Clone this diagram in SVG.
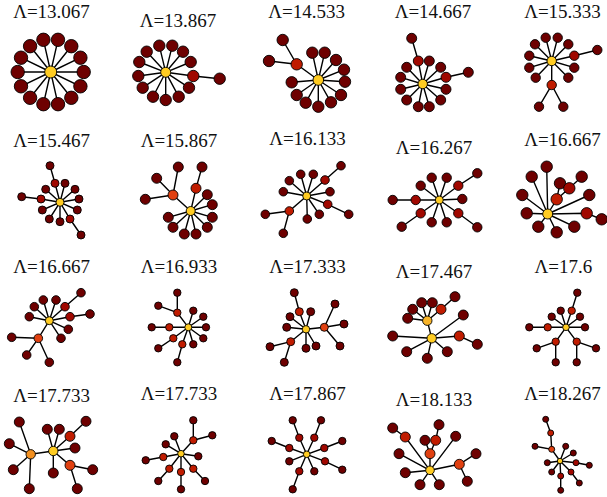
<svg xmlns="http://www.w3.org/2000/svg" width="607" height="497" viewBox="0 0 607 497">
<style>
.e{stroke:#000;stroke-width:1.4;fill:none;stroke-linecap:round}
circle{stroke:#000;stroke-width:0.9}
.l{fill:#6e0000}.r{fill:#a00800}.s{fill:#c01c00}.o{fill:#e04010}.h{fill:#ffcc22}.h2{fill:#f8b428}.oo{fill:#f39020}
text{font-family:"Liberation Serif","Times New Roman",serif;font-size:19px;text-anchor:middle;fill:#111}
</style>
<rect width="607" height="497" fill="#fff"/>
<g id="connectors">
<path id="e1" class="e" d="M50.7 72L58 39.8M50.7 72L71.3 46.2M50.7 72L80.4 57.7M50.7 72L83.7 72M50.7 72L80.4 86.3M50.7 72L71.3 97.8M50.7 72L58 104.2M50.7 72L43.4 104.2M50.7 72L30.1 97.8M50.7 72L21 86.3M50.7 72L17.7 72M50.7 72L21 57.7M50.7 72L30.1 46.2M50.7 72L43.4 39.8"/>
<path id="e2" class="e" d="M165.7 72.3L159.3 45.7M165.7 72.3L172.3 45.7M165.7 72.3L183 51.7M165.7 72.3L190.7 62M165.7 72.3L193.3 76L219.7 78.7M165.7 72.3L189 87.7M165.7 72.3L178.7 96.7M165.7 72.3L165.7 100M165.7 72.3L153 96.7M165.7 72.3L142.7 87.7M165.7 72.3L138.3 76M165.7 72.3L139.3 62M165.7 72.3L146.7 51.7"/>
<path id="e3" class="e" d="M318.3 80L296.7 64.3L282.7 40M296.7 64.3L269 61M318.3 80L312.3 52.7M318.3 80L324.7 52.7M318.3 80L336 60M318.3 80L344 69.7M318.3 80L345 81.7M318.3 80L341 95M318.3 80L331 102.3M318.3 80L318.3 106.7M318.3 80L305.7 102.7M318.3 80L296.7 95M318.3 80L291.7 82.3"/>
<path id="e4" class="e" d="M422.7 84L418.3 61L411.7 38.3M422.7 84L446 77.3L468.3 72.3M422.7 84L429.3 61M422.7 84L440.7 67.3M422.7 84L446 89.3M422.7 84L440.7 100M422.7 84L429.3 106.7M422.7 84L418.3 106.7M422.7 84L406.7 100M422.7 84L400.7 89.3M422.7 84L400.7 77.3M422.7 84L406.7 67.3"/>
<path id="e5" class="e" d="M551.7 61L574.3 55.7L597.3 50M551.7 61L551.7 85L539 106.7M551.7 85L563.3 106.7M551.7 61L545.7 37.7M551.7 61L557.7 37.7M551.7 61L568.3 44.3M551.7 61L574.3 67.7M551.7 61L568.3 77.7M551.7 61L535.7 77.7M551.7 61L529.3 67.7M551.7 61L529.3 55.7M551.7 61L535 44.3"/>
<path id="e6" class="e" d="M60 202.3L55 183.3L50 165.7M60 202.3L70 219L81 235M60 202.3L41 199L21.7 196.7M60 202.3L65 183.3M60 202.3L75 189.3M60 202.3L79 199M60 202.3L77.3 210M60 202.3L60 221.7M60 202.3L49.3 219M60 202.3L42.3 210M60 202.3L45.7 189.3"/>
<path id="e7" class="e" d="M190.7 211L173 195L156.7 178.3M173 195L145.3 199.3M173 195L178.3 167M190.7 211L196 188.3L202 167M190.7 211L207.3 194.7M190.7 211L212.3 204.7M190.7 211L212.3 217.3M190.7 211L207.3 227.3M190.7 211L196 234M190.7 211L184.3 234M190.7 211L173 227.3M190.7 211L168.3 217.3"/>
<path id="e8" class="e" d="M306.7 196L325 180L341 165.7M306.7 196L327.7 204.3L348.7 214.3M306.7 196L289.3 211L265.3 214.3M289.3 211L283.3 233.3M306.7 196L289.3 180.7M306.7 196L300.7 174.3M306.7 196L313.3 174.3M306.7 196L330 191.7M306.7 196L319.3 214.3M306.7 196L307.3 219M306.7 196L283.3 191.7"/>
<path id="e9" class="e" d="M439.3 200L458.3 185.7L477.3 173.3M439.3 200L458.3 213.3L477.3 227.3M439.3 200L420.7 213.3L401.7 226.7M439.3 200L415.7 200L392.7 200M439.3 200L420.7 185.7M439.3 200L431.7 177.7M439.3 200L446.7 177.7M439.3 200L462.3 199M439.3 200L446.7 222.3M439.3 200L431.7 222.3"/>
<path id="e10" class="e" d="M547.7 214L556.7 199.3L560 183.3M556.7 199.3L569.3 188.3L581.7 176.7M547.7 214L586.7 213.3L601.7 219.3M547.7 214L546.7 166.7M547.7 214L531.7 176.7M547.7 214L522.3 195M547.7 214L526.7 213.3M547.7 214L538.3 226.7M547.7 214L556.7 232.3M547.7 214L574.3 226.7M547.7 214L589.3 195"/>
<path id="e11" class="e" d="M49.3 320.7L65 306.7L81 292.7M49.3 320.7L70 316.7L90 314M49.3 320.7L38.3 338.3L11.7 337.3M38.3 338.3L26.7 355M38.3 338.3L49.3 362.3M49.3 320.7L34.3 306.7M49.3 320.7L43.3 300M49.3 320.7L56 300M49.3 320.7L68.3 329.3M49.3 320.7L61 338.3M49.3 320.7L29.3 316.7"/>
<path id="e12" class="e" d="M188.3 327.3L177.3 312.7L177.3 292.7M177.3 312.7L158.3 305.7M188.3 327.3L182.3 344.3L177.3 362.3M188.3 327.3L173.3 338.3L158.3 348.3M188.3 327.3L169.3 327.3L151.7 327.3M188.3 327.3L193.3 310.7M188.3 327.3L203.3 316.7M188.3 327.3L206 327.3M188.3 327.3L203.3 338.3M188.3 327.3L193.3 344.3"/>
<path id="e13" class="e" d="M306 329.3L299.3 311.7L294.3 292.7M306 329.3L290.7 341.7L270 346.7M290.7 341.7L284.3 362.3M306 329.3L324.3 327.3L335 304M324.3 327.3L344 324M324.3 327.3L340 346M306 329.3L310.7 311.7M306 329.3L290 316.7M306 329.3L286.7 327.3M306 329.3L306 348.3M306 329.3L316 346"/>
<path id="e14" class="e" d="M431.7 338.3L427.3 320.7L412.7 309.3M427.3 320.7L421.7 302.7M427.3 320.7L432.3 302.7M427.3 320.7L441 309.3L455 296.7M427.3 320.7L407.7 318.3M431.7 338.3L392.7 336M431.7 338.3L463.3 315M431.7 338.3L459.3 336L477.3 344.3M431.7 338.3L447.3 351.7M431.7 338.3L427.3 358.3M431.7 338.3L406.7 351.7"/>
<path id="e15" class="e" d="M566 327.3L571.7 310.7L577.3 292.7M566 327.3L547.7 327.3L529.3 327.3M566 327.3L555.7 341.7L536.7 348.3M555.7 341.7L555.7 362.3M566 327.3L576.7 341.7L596 348.3M576.7 341.7L576.7 362.3M566 327.3L560.7 310.7M566 327.3L551.7 316.7M566 327.3L580 316.7M566 327.3L585 327.3"/>
<path id="e16" class="e" d="M53.3 451L30.7 454.3L19.3 422M30.7 454.3L9.3 443.7M30.7 454.3L13.3 469.7M30.7 454.3L29.3 488.7M53.3 451L47.3 429.3M53.3 451L59.3 429.3M53.3 451L70 436.3L86 421.3M53.3 451L75 448M53.3 451L70 465.3L92.7 469.7M70 465.3L77.3 488.7M53.3 451L53.3 473"/>
<path id="e17" class="e" d="M181 453.7L193.3 440.3L193.3 420.3M193.3 440.3L212.3 435.3M181 453.7L193.3 468.7L205 481M181 453.7L181 472L181 489.3M181 453.7L169.3 468.7L158.3 481M181 453.7L163.3 457L145.7 460.3M181 453.7L174.3 436.3M181 453.7L165.7 444.3M181 453.7L198.3 456.3"/>
<path id="e18" class="e" d="M306.7 454.3L299.3 437.7L292.7 420.3M306.7 454.3L314.3 437.7L321 420.3M306.7 454.3L289.3 448L271.7 441M306.7 454.3L324.3 448L342.3 441M306.7 454.3L325 461.3L342.3 469.7M306.7 454.3L299.3 471.3L292.7 489.3M306.7 454.3L289.3 461.3M306.7 454.3L314.3 471.3"/>
<path id="e19" class="e" d="M430 470.3L430 453.7L425 440.3M430 453.7L435.7 440.3L439 424.7M430 470.3L405.3 437L392.7 428M430 470.3L459.3 464.3L476 453.7M459.3 464.3L467.3 481.3M430 470.3L399 453.7M430 470.3L405.3 472.7M430 470.3L420 484.7M430 470.3L439.3 484.7M430 470.3L455.7 436.3"/>
<path id="e20" class="e" d="M560 461L551.7 449.3L535 446.3M551.7 449.3L550.7 433L545.7 419.3M560 461L576 462.7L589.3 465.3M560 461L571 472L579.3 483M560 461L560.7 476L560.7 490.3M560 461L565.7 446.3M560 461L573.3 453M560 461L551.7 472M560 461L547.3 462.7"/>
</g>
<g id="graph1"><text x="51.5" y="18">Λ=13.067</text>
<g class="l"><circle cx="58" cy="39.8" r="6.7"/><circle cx="71.3" cy="46.2" r="6.7"/><circle cx="80.4" cy="57.7" r="6.7"/><circle cx="83.7" cy="72" r="6.7"/><circle cx="80.4" cy="86.3" r="6.7"/><circle cx="71.3" cy="97.8" r="6.7"/><circle cx="58" cy="104.2" r="6.7"/><circle cx="43.4" cy="104.2" r="6.7"/><circle cx="30.1" cy="97.8" r="6.7"/><circle cx="21" cy="86.3" r="6.7"/><circle cx="17.7" cy="72" r="6.7"/><circle cx="21" cy="57.7" r="6.7"/><circle cx="30.1" cy="46.2" r="6.7"/><circle cx="43.4" cy="39.8" r="6.7"/></g>
<circle class="h" cx="50.7" cy="72" r="6"/></g>
<g id="graph2"><text x="178" y="26.5">Λ=13.867</text>
<g class="l"><circle cx="159.3" cy="45.7" r="5.7"/><circle cx="172.3" cy="45.7" r="5.7"/><circle cx="183" cy="51.7" r="5.7"/><circle cx="190.7" cy="62" r="5.7"/><circle cx="219.7" cy="78.7" r="5.7"/><circle cx="189" cy="87.7" r="5.7"/><circle cx="178.7" cy="96.7" r="5.7"/><circle cx="165.7" cy="100" r="5.7"/><circle cx="153" cy="96.7" r="5.7"/><circle cx="142.7" cy="87.7" r="5.7"/><circle cx="138.3" cy="76" r="5.7"/><circle cx="139.3" cy="62" r="5.7"/><circle cx="146.7" cy="51.7" r="5.7"/></g>
<circle class="r" cx="193.3" cy="76" r="5.7"/><circle class="h" cx="165.7" cy="72.3" r="5"/></g>
<g id="graph3"><text x="306.7" y="18.3">Λ=14.533</text>
<g class="l"><circle cx="282.7" cy="40" r="5.7"/><circle cx="269" cy="61" r="5.7"/><circle cx="312.3" cy="52.7" r="5.7"/><circle cx="324.7" cy="52.7" r="5.7"/><circle cx="336" cy="60" r="5.7"/><circle cx="344" cy="69.7" r="5.7"/><circle cx="345" cy="81.7" r="5.7"/><circle cx="341" cy="95" r="5.7"/><circle cx="331" cy="102.3" r="5.7"/><circle cx="318.3" cy="106.7" r="5.7"/><circle cx="305.7" cy="102.7" r="5.7"/><circle cx="296.7" cy="95" r="5.7"/><circle cx="291.7" cy="82.3" r="5.7"/></g>
<circle class="s" cx="296.7" cy="64.3" r="5.7"/><circle class="h" cx="318.3" cy="80" r="5.3"/></g>
<g id="graph4"><text x="433" y="18.3">Λ=14.667</text>
<g class="l"><circle cx="411.7" cy="38.3" r="5"/><circle cx="468.3" cy="72.3" r="5"/><circle cx="429.3" cy="61" r="5"/><circle cx="440.7" cy="67.3" r="5"/><circle cx="446" cy="89.3" r="5"/><circle cx="440.7" cy="100" r="5"/><circle cx="429.3" cy="106.7" r="5"/><circle cx="418.3" cy="106.7" r="5"/><circle cx="406.7" cy="100" r="5"/><circle cx="400.7" cy="89.3" r="5"/><circle cx="400.7" cy="77.3" r="5"/><circle cx="406.7" cy="67.3" r="5"/></g>
<circle class="r" cx="418.3" cy="61" r="5"/><circle class="r" cx="446" cy="77.3" r="5"/><circle class="h" cx="422.7" cy="84" r="4.7"/></g>
<g id="graph5"><text x="562.5" y="18.3">Λ=15.333</text>
<g class="l"><circle cx="597.3" cy="50" r="4.7"/><circle cx="539" cy="106.7" r="4.7"/><circle cx="563.3" cy="106.7" r="4.7"/><circle cx="545.7" cy="37.7" r="4.7"/><circle cx="557.7" cy="37.7" r="4.7"/><circle cx="568.3" cy="44.3" r="4.7"/><circle cx="574.3" cy="67.7" r="4.7"/><circle cx="568.3" cy="77.7" r="4.7"/><circle cx="535.7" cy="77.7" r="4.7"/><circle cx="529.3" cy="67.7" r="4.7"/><circle cx="529.3" cy="55.7" r="4.7"/><circle cx="535" cy="44.3" r="4.7"/></g>
<circle class="r" cx="574.3" cy="55.7" r="4.7"/><circle class="s" cx="551.7" cy="85" r="4.7"/><circle class="h" cx="551.7" cy="61" r="4.7"/></g>
<g id="graph6"><text x="51.7" y="146.7">Λ=15.467</text>
<g class="l"><circle cx="50" cy="165.7" r="4"/><circle cx="81" cy="235" r="4"/><circle cx="21.7" cy="196.7" r="4"/><circle cx="65" cy="183.3" r="4"/><circle cx="75" cy="189.3" r="4"/><circle cx="79" cy="199" r="4"/><circle cx="77.3" cy="210" r="4"/><circle cx="60" cy="221.7" r="4"/><circle cx="49.3" cy="219" r="4"/><circle cx="42.3" cy="210" r="4"/><circle cx="45.7" cy="189.3" r="4"/></g>
<circle class="r" cx="55" cy="183.3" r="4"/><circle class="r" cx="70" cy="219" r="4"/><circle class="r" cx="41" cy="199" r="4"/><circle class="h" cx="60" cy="202.3" r="4"/></g>
<g id="graph7"><text x="179" y="146.7">Λ=15.867</text>
<g class="l"><circle cx="156.7" cy="178.3" r="5"/><circle cx="145.3" cy="199.3" r="5"/><circle cx="178.3" cy="167" r="5"/><circle cx="202" cy="167" r="5"/><circle cx="207.3" cy="194.7" r="5"/><circle cx="212.3" cy="204.7" r="5"/><circle cx="212.3" cy="217.3" r="5"/><circle cx="207.3" cy="227.3" r="5"/><circle cx="196" cy="234" r="5"/><circle cx="184.3" cy="234" r="5"/><circle cx="173" cy="227.3" r="5"/><circle cx="168.3" cy="217.3" r="5"/></g>
<circle class="o" cx="173" cy="195" r="5"/><circle class="s" cx="196" cy="188.3" r="5"/><circle class="h" cx="190.7" cy="211" r="4.5"/></g>
<g id="graph8"><text x="307.5" y="145">Λ=16.133</text>
<g class="l"><circle cx="341" cy="165.7" r="4.3"/><circle cx="348.7" cy="214.3" r="4.3"/><circle cx="265.3" cy="214.3" r="4.3"/><circle cx="283.3" cy="233.3" r="4.3"/><circle cx="289.3" cy="180.7" r="4.3"/><circle cx="300.7" cy="174.3" r="4.3"/><circle cx="313.3" cy="174.3" r="4.3"/><circle cx="330" cy="191.7" r="4.3"/><circle cx="319.3" cy="214.3" r="4.3"/><circle cx="307.3" cy="219" r="4.3"/><circle cx="283.3" cy="191.7" r="4.3"/></g>
<circle class="r" cx="325" cy="180" r="4.3"/><circle class="r" cx="327.7" cy="204.3" r="4.3"/><circle class="s" cx="289.3" cy="211" r="4.3"/><circle class="h" cx="306.7" cy="196" r="4"/></g>
<g id="graph9"><text x="434" y="154.3">Λ=16.267</text>
<g class="l"><circle cx="477.3" cy="173.3" r="4.7"/><circle cx="477.3" cy="227.3" r="4.7"/><circle cx="401.7" cy="226.7" r="4.7"/><circle cx="392.7" cy="200" r="4.7"/><circle cx="420.7" cy="185.7" r="4.7"/><circle cx="431.7" cy="177.7" r="4.7"/><circle cx="446.7" cy="177.7" r="4.7"/><circle cx="462.3" cy="199" r="4.7"/><circle cx="446.7" cy="222.3" r="4.7"/><circle cx="431.7" cy="222.3" r="4.7"/></g>
<circle class="r" cx="458.3" cy="185.7" r="4.7"/><circle class="r" cx="458.3" cy="213.3" r="4.7"/><circle class="r" cx="420.7" cy="213.3" r="4.7"/><circle class="r" cx="415.7" cy="200" r="4.7"/><circle class="h" cx="439.3" cy="200" r="4"/></g>
<g id="graph10"><text x="562.5" y="145.7">Λ=16.667</text>
<g class="l"><circle cx="560" cy="183.3" r="5.7"/><circle cx="581.7" cy="176.7" r="5.7"/><circle cx="601.7" cy="219.3" r="5.7"/><circle cx="546.7" cy="166.7" r="5.7"/><circle cx="531.7" cy="176.7" r="5.7"/><circle cx="522.3" cy="195" r="5.7"/><circle cx="526.7" cy="213.3" r="5.7"/><circle cx="538.3" cy="226.7" r="5.7"/><circle cx="556.7" cy="232.3" r="5.7"/><circle cx="574.3" cy="226.7" r="5.7"/><circle cx="589.3" cy="195" r="5.7"/></g>
<circle class="r" cx="569.3" cy="188.3" r="5.7"/><circle class="s" cx="556.7" cy="199.3" r="5.7"/><circle class="r" cx="586.7" cy="213.3" r="5.7"/><circle class="h" cx="547.7" cy="214" r="5"/></g>
<g id="graph11"><text x="51.7" y="273.3">Λ=16.667</text>
<g class="l"><circle cx="81" cy="292.7" r="4.3"/><circle cx="90" cy="314" r="4.3"/><circle cx="11.7" cy="337.3" r="4.3"/><circle cx="26.7" cy="355" r="4.3"/><circle cx="49.3" cy="362.3" r="4.3"/><circle cx="34.3" cy="306.7" r="4.3"/><circle cx="43.3" cy="300" r="4.3"/><circle cx="56" cy="300" r="4.3"/><circle cx="68.3" cy="329.3" r="4.3"/><circle cx="61" cy="338.3" r="4.3"/><circle cx="29.3" cy="316.7" r="4.3"/></g>
<circle class="r" cx="65" cy="306.7" r="4.3"/><circle class="r" cx="70" cy="316.7" r="4.3"/><circle class="o" cx="38.3" cy="338.3" r="4.3"/><circle class="h" cx="49.3" cy="320.7" r="4"/></g>
<g id="graph12"><text x="179" y="273.3">Λ=16.933</text>
<g class="l"><circle cx="177.3" cy="292.7" r="3.7"/><circle cx="158.3" cy="305.7" r="3.7"/><circle cx="177.3" cy="362.3" r="3.7"/><circle cx="158.3" cy="348.3" r="3.7"/><circle cx="151.7" cy="327.3" r="3.7"/><circle cx="193.3" cy="310.7" r="3.7"/><circle cx="203.3" cy="316.7" r="3.7"/><circle cx="206" cy="327.3" r="3.7"/><circle cx="203.3" cy="338.3" r="3.7"/><circle cx="193.3" cy="344.3" r="3.7"/></g>
<circle class="s" cx="177.3" cy="312.7" r="3.7"/><circle class="s" cx="182.3" cy="344.3" r="3.7"/><circle class="s" cx="173.3" cy="338.3" r="3.7"/><circle class="s" cx="169.3" cy="327.3" r="3.7"/><circle class="h" cx="188.3" cy="327.3" r="3.5"/></g>
<g id="graph13"><text x="307.5" y="273.3">Λ=17.333</text>
<g class="l"><circle cx="294.3" cy="292.7" r="4"/><circle cx="270" cy="346.7" r="4"/><circle cx="284.3" cy="362.3" r="4"/><circle cx="335" cy="304" r="4"/><circle cx="344" cy="324" r="4"/><circle cx="340" cy="346" r="4"/><circle cx="310.7" cy="311.7" r="4"/><circle cx="290" cy="316.7" r="4"/><circle cx="286.7" cy="327.3" r="4"/><circle cx="306" cy="348.3" r="4"/><circle cx="316" cy="346" r="4"/></g>
<circle class="s" cx="299.3" cy="311.7" r="4"/><circle class="s" cx="290.7" cy="341.7" r="4"/><circle class="o" cx="324.3" cy="327.3" r="4"/><circle class="h" cx="306" cy="329.3" r="3.7"/></g>
<g id="graph14"><text x="434" y="278.3">Λ=17.467</text>
<g class="l"><circle cx="412.7" cy="309.3" r="5"/><circle cx="421.7" cy="302.7" r="5"/><circle cx="432.3" cy="302.7" r="5"/><circle cx="455" cy="296.7" r="5"/><circle cx="407.7" cy="318.3" r="5"/><circle cx="392.7" cy="336" r="5"/><circle cx="463.3" cy="315" r="5"/><circle cx="477.3" cy="344.3" r="5"/><circle cx="447.3" cy="351.7" r="5"/><circle cx="427.3" cy="358.3" r="5"/><circle cx="406.7" cy="351.7" r="5"/></g>
<circle class="s" cx="441" cy="309.3" r="5"/><circle class="s" cx="459.3" cy="336" r="5"/><circle class="h2" cx="427.3" cy="320.7" r="4.7"/><circle class="h" cx="431.7" cy="338.3" r="4.7"/></g>
<g id="graph15"><text x="563.3" y="273.3">Λ=17.6</text>
<g class="l"><circle cx="577.3" cy="292.7" r="3.7"/><circle cx="529.3" cy="327.3" r="3.7"/><circle cx="536.7" cy="348.3" r="3.7"/><circle cx="555.7" cy="362.3" r="3.7"/><circle cx="596" cy="348.3" r="3.7"/><circle cx="576.7" cy="362.3" r="3.7"/><circle cx="560.7" cy="310.7" r="3.7"/><circle cx="551.7" cy="316.7" r="3.7"/><circle cx="580" cy="316.7" r="3.7"/><circle cx="585" cy="327.3" r="3.7"/></g>
<circle class="s" cx="571.7" cy="310.7" r="3.7"/><circle class="s" cx="547.7" cy="327.3" r="3.7"/><circle class="s" cx="555.7" cy="341.7" r="3.7"/><circle class="s" cx="576.7" cy="341.7" r="3.7"/><circle class="h" cx="566" cy="327.3" r="3.3"/></g>
<g id="graph16"><text x="51.7" y="402">Λ=17.733</text>
<g class="l"><circle cx="19.3" cy="422" r="5"/><circle cx="9.3" cy="443.7" r="5"/><circle cx="13.3" cy="469.7" r="5"/><circle cx="29.3" cy="488.7" r="5"/><circle cx="47.3" cy="429.3" r="5"/><circle cx="59.3" cy="429.3" r="5"/><circle cx="86" cy="421.3" r="5"/><circle cx="75" cy="448" r="5"/><circle cx="92.7" cy="469.7" r="5"/><circle cx="77.3" cy="488.7" r="5"/><circle cx="53.3" cy="473" r="5"/></g>
<circle class="s" cx="70" cy="436.3" r="5"/><circle class="o" cx="70" cy="465.3" r="5"/><circle class="oo" cx="30.7" cy="454.3" r="4.7"/><circle class="h" cx="53.3" cy="451" r="4.7"/></g>
<g id="graph17"><text x="179" y="400.3">Λ=17.733</text>
<g class="l"><circle cx="193.3" cy="420.3" r="3.7"/><circle cx="212.3" cy="435.3" r="3.7"/><circle cx="205" cy="481" r="3.7"/><circle cx="181" cy="489.3" r="3.7"/><circle cx="158.3" cy="481" r="3.7"/><circle cx="145.7" cy="460.3" r="3.7"/><circle cx="174.3" cy="436.3" r="3.7"/><circle cx="165.7" cy="444.3" r="3.7"/><circle cx="198.3" cy="456.3" r="3.7"/></g>
<circle class="s" cx="193.3" cy="440.3" r="3.7"/><circle class="s" cx="193.3" cy="468.7" r="3.7"/><circle class="s" cx="181" cy="472" r="3.7"/><circle class="s" cx="169.3" cy="468.7" r="3.7"/><circle class="s" cx="163.3" cy="457" r="3.7"/><circle class="h" cx="181" cy="453.7" r="3.3"/></g>
<g id="graph18"><text x="307.5" y="400.3">Λ=17.867</text>
<g class="l"><circle cx="292.7" cy="420.3" r="3.7"/><circle cx="321" cy="420.3" r="3.7"/><circle cx="271.7" cy="441" r="3.7"/><circle cx="342.3" cy="441" r="3.7"/><circle cx="342.3" cy="469.7" r="3.7"/><circle cx="292.7" cy="489.3" r="3.7"/><circle cx="289.3" cy="461.3" r="3.7"/><circle cx="314.3" cy="471.3" r="3.7"/></g>
<circle class="r" cx="299.3" cy="437.7" r="3.7"/><circle class="r" cx="314.3" cy="437.7" r="3.7"/><circle class="r" cx="289.3" cy="448" r="3.7"/><circle class="r" cx="324.3" cy="448" r="3.7"/><circle class="r" cx="325" cy="461.3" r="3.7"/><circle class="r" cx="299.3" cy="471.3" r="3.7"/><circle class="h" cx="306.7" cy="454.3" r="3.3"/></g>
<g id="graph19"><text x="434" y="406">Λ=18.133</text>
<g class="l"><circle cx="439" cy="424.7" r="5"/><circle cx="425" cy="440.3" r="5"/><circle cx="392.7" cy="428" r="5"/><circle cx="476" cy="453.7" r="5"/><circle cx="467.3" cy="481.3" r="5"/><circle cx="399" cy="453.7" r="5"/><circle cx="405.3" cy="472.7" r="5"/><circle cx="420" cy="484.7" r="5"/><circle cx="439.3" cy="484.7" r="5"/><circle cx="455.7" cy="436.3" r="5"/></g>
<circle class="s" cx="435.7" cy="440.3" r="5"/><circle class="s" cx="405.3" cy="437" r="5"/><circle class="o" cx="430" cy="453.7" r="5"/><circle class="o" cx="459.3" cy="464.3" r="5"/><circle class="h" cx="430" cy="470.3" r="4.3"/></g>
<g id="graph20"><text x="562.5" y="400.3">Λ=18.267</text>
<g class="l"><circle cx="535" cy="446.3" r="3"/><circle cx="545.7" cy="419.3" r="3"/><circle cx="589.3" cy="465.3" r="3"/><circle cx="579.3" cy="483" r="3"/><circle cx="560.7" cy="490.3" r="3"/><circle cx="565.7" cy="446.3" r="3"/><circle cx="573.3" cy="453" r="3"/><circle cx="551.7" cy="472" r="3"/><circle cx="547.3" cy="462.7" r="3"/></g>
<circle class="s" cx="550.7" cy="433" r="3"/><circle class="o" cx="551.7" cy="449.3" r="3"/><circle class="r" cx="576" cy="462.7" r="3"/><circle class="r" cx="571" cy="472" r="3"/><circle class="r" cx="560.7" cy="476" r="3"/><circle class="h" cx="560" cy="461" r="2.7"/></g>
</svg>
